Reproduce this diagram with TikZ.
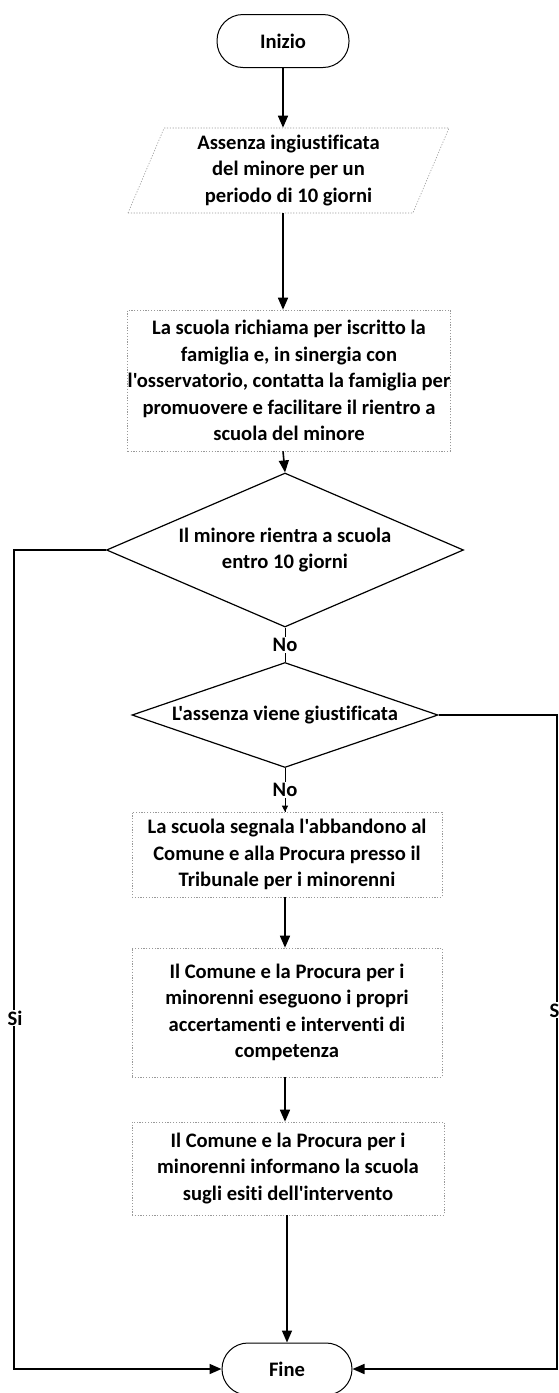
\documentclass[tikz,border=0pt]{standalone}
\usepackage{fontspec}
\defaultfontfeatures[\rmfamily]{}
\setmainfont{Carlito}[Ligatures={NoCommon}]
\usetikzlibrary{shapes.geometric,arrows.meta}
\tikzset{
  txt/.style={font=\bfseries\fontsize{20.6}{26.5}\selectfont, align=center, inner sep=0pt},
  term/.style={txt, draw=black, line width=1pt, rounded corners=26pt, minimum width=132pt, minimum height=53pt},
  procbox/.style={txt, draw=black!40, line width=0.6pt, dash pattern=on 1.2pt off 1.6pt, minimum width=#1},
  io/.style={txt, draw=black!40, line width=0.6pt, dash pattern=on 1.2pt off 1.6pt, trapezium, trapezium left angle=63, trapezium right angle=117, trapezium stretches body, minimum width=321pt, minimum height=85pt},
  dec/.style={txt, draw=black, line width=1.2pt, diamond},
  flow/.style={line width=1.6pt, -{Triangle[width=10pt,length=12pt]}},
  thin/.style={line width=1pt, -{Triangle[width=6pt,length=6pt]}},
  lab/.style={font=\bfseries\fontsize{20.6}{26.5}\selectfont, inner sep=1pt, fill=white}
}
\begin{document}
\begin{tikzpicture}[x=1pt,y=-1pt]
\useasboundingbox[fill=white] (0,0) rectangle (559,1393);
\node[term] (start) at (283,41) {Inizio};
\node[io] (in) at (288.5,170.5) {Assenza ingiustificata\\del minore per un\\periodo di 10 giorni};
\node[procbox=318pt, minimum height=141pt] (b2) at (289,380.5) {La scuola richiama per iscritto la\\famiglia e, in sinergia con\\l'osservatorio, contatta la famiglia per\\promuovere e facilitare il rientro a\\scuola del minore};
\node[dec, minimum width=357pt, minimum height=154pt, shape aspect=2.3] (d1) at (285,550) {Il minore rientra a scuola\\entro 10 giorni};
\node[dec, minimum width=306pt, minimum height=105pt, shape aspect=2.9] (d2) at (285,715) {L'assenza viene giustificata};
\node[procbox=310pt, minimum height=85pt] (b3) at (287,854.5) {La scuola segnala l'abbandono al\\Comune e alla Procura presso il\\Tribunale per i minorenni};
\node[procbox=310pt, minimum height=129pt] (b4) at (287,1012.5) {Il Comune e la Procura per i\\minorenni eseguono i propri\\accertamenti e interventi di\\competenza};
\node[procbox=312pt, minimum height=93pt] (b5) at (288,1168.5) {Il Comune e la Procura per i\\minorenni informano la scuola\\sugli esiti dell'intervento};
\node[term, minimum width=130pt, minimum height=52pt] (end) at (287,1369) {Fine};
\coordinate (lx1) at (14,550);
\coordinate (lx2) at (14,1369);
\coordinate (rx1) at (557,715);
\coordinate (rx2) at (557,1369);
% main flow
\draw[flow] (start.south) -- (start.south |- in.north);
\draw[flow] (in.south -| start.south) -- (start.south |- b2.north);
\draw[flow] (start.south |- b2.south) -- (d1.north);
\draw[line width=1pt] (d1.south) -- (d2.north) node[lab, pos=0.5] (no1) {No};
\draw[line width=1pt] (d2.south) -- (d2.south |- b3.north) node[lab, pos=0.5] (no2) {No};
\draw[thin] (d2.south |- b3.north) ++(0,-6) -- (d2.south |- b3.north);
\draw[flow] (b3.south -| d2.south) -- (d2.south |- b4.north);
\draw[flow] (b4.south -| d2.south) -- (d2.south |- b5.north);
\draw[flow] (b5.south -| end.north) -- (end.north);
% side branches
\draw[flow] (d1.west) -- (lx1) -- (lx2) -- (end.west);
\draw[flow] (d2.east) -- (rx1) -- (rx2) -- (end.east);
\node[lab] (si1) at (15,1018) {Si};
\node[lab] (si2) at (557,1010) {Si};
\end{tikzpicture}
\end{document}
